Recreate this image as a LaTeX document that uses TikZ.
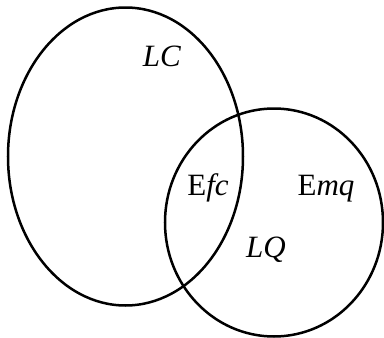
\documentclass[tikz,border=0pt]{standalone}
\usepackage{fontspec}
\setmainfont{Liberation Serif}
\begin{document}
\begin{tikzpicture}[x=1pt,y=-1pt,
  setline/.style={line width=2.5pt},
  lbl/.style={inner sep=0pt, font=\fontsize{31}{35}\selectfont}]
\useasboundingbox (0,0) rectangle (384,338);
\draw[setline] (125.5,156.5) ellipse [x radius=117.5, y radius=149];
\draw[setline] (274,222.5) ellipse [x radius=109, y radius=114];
\node[lbl, anchor=base] (lc) at (162,66) {\textit{LC}};
\node[lbl, anchor=base] (efc) at (208,195) {E\textit{fc}};
\node[lbl, anchor=base] (emq) at (326,195) {E\textit{mq}};
\node[lbl, anchor=base] (lq) at (266,257) {\textit{LQ}};
\end{tikzpicture}
\end{document}
